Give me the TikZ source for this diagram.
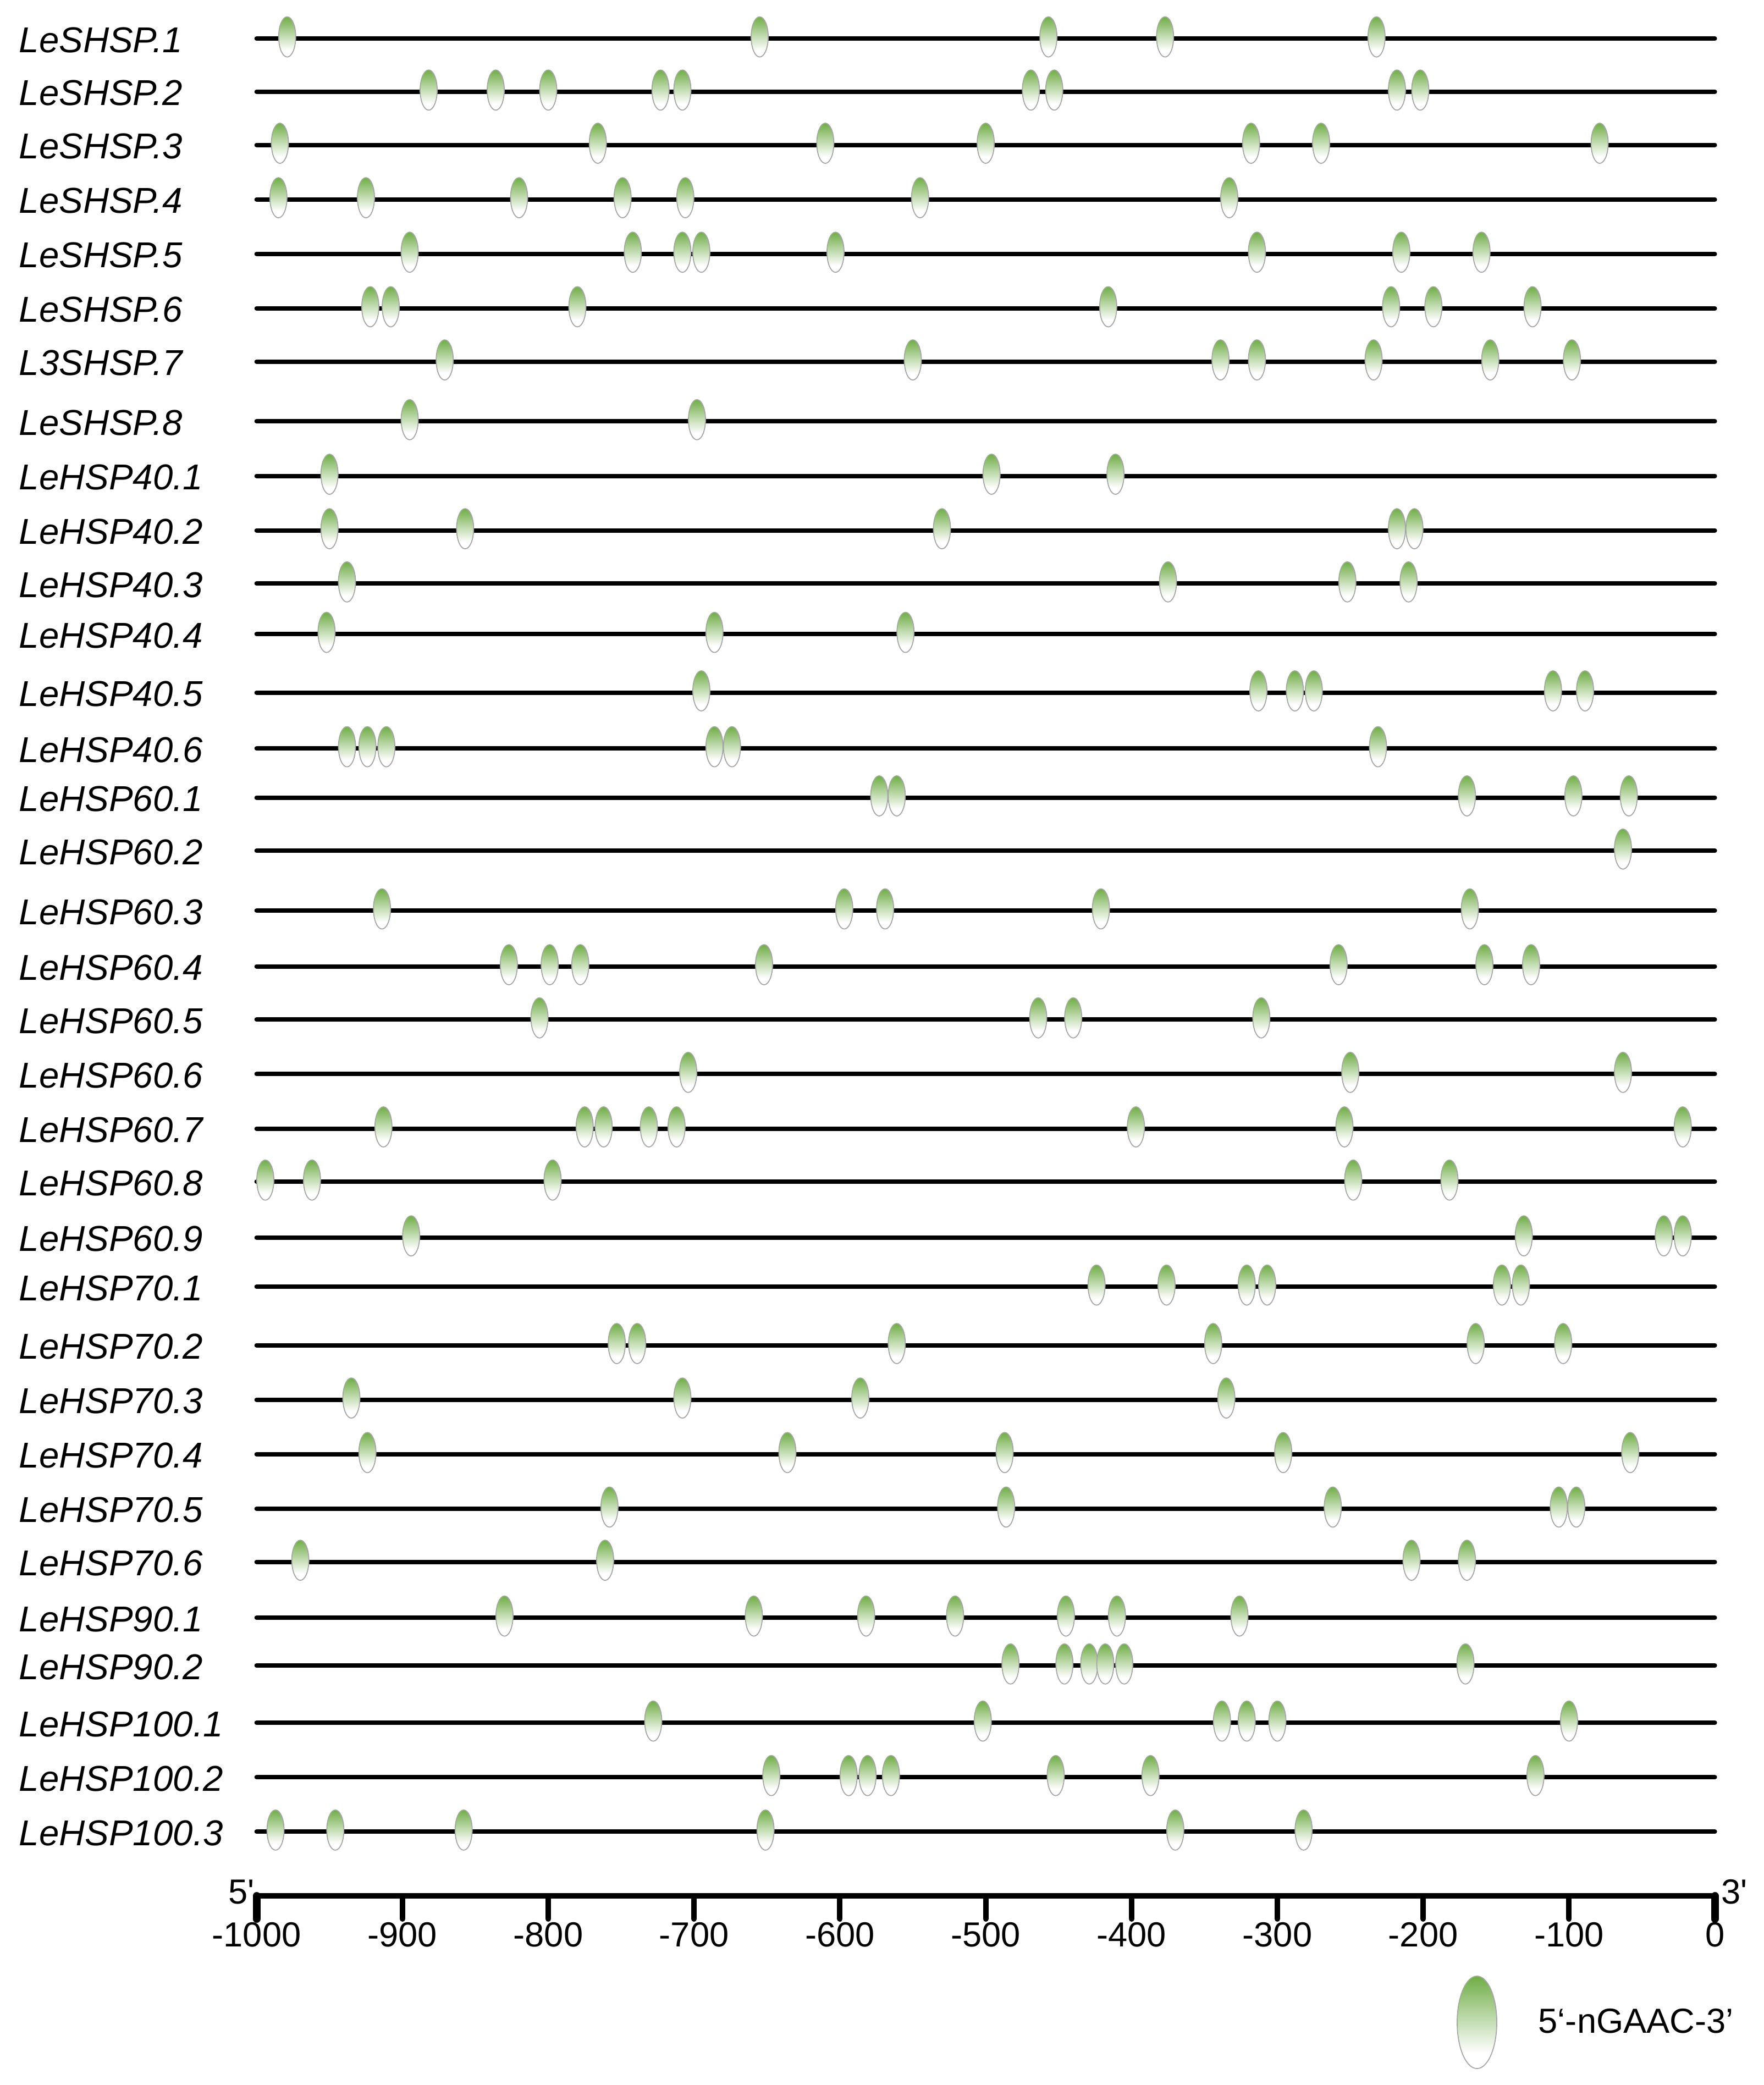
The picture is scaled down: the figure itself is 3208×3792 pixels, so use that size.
\documentclass[tikz,border=0pt]{standalone}
\usepackage{fontspec}
\newfontfamily\arialf{Liberation Sans}
\usetikzlibrary{shapes.geometric}
\definecolor{mgreen}{RGB}{112,173,71}
\colorlet{mlight}{mgreen!45!white}
\definecolor{mgray}{RGB}{165,165,165}
\pgfdeclareverticalshading{motifshade}{100bp}{color(0bp)=(white); color(33bp)=(white); color(52bp)=(mlight); color(75bp)=(mgreen); color(100bp)=(mgreen)}
\tikzset{
  rowline/.style={line width=0.08cm, line cap=round},
  axisline/.style={line width=0.1cm},
  tickline/.style={line width=0.1cm, line cap=round},
  motif/.style={ellipse, draw=mgray, line width=0.5pt, shade, shading=motifshade, inner sep=0pt, minimum width=0.31cm, minimum height=0.73cm},
  lab/.style={font=\arialf\itshape\fontsize{18.6}{20}\selectfont, inner sep=0pt},
  ticklab/.style={font=\arialf\fontsize{18}{20}\selectfont, inner sep=0pt},
}
\newcommand\generow[4]{%
  \node[lab, anchor=base west] (lab-#1) at (34,#2+25) {#3};
  \coordinate (s-#1) at (466.6,#2);
  \coordinate (t-#1) at (3118.6,#2);
  \draw[rowline] (s-#1) -- (t-#1);
  \foreach \v [count=\j] in {#4} {
    \pgfmathsetmacro\X{3118.6+2.652*\v}
    \node[motif] (m-#1-\j) at (\X,#2-3) {};
  }%
}
\begin{document}
\begin{tikzpicture}[x=0.01cm, y=-0.01cm]
\path[fill=white] (0,0) rectangle (3208,3792);
\useasboundingbox (0,0) rectangle (3208,3792);
\generow{1}{70.1}{LeSHSP.1}{-979,-655,-457,-377,-232}
\generow{2}{166.8}{LeSHSP.2}{-882,-836,-800,-723,-708,-469,-453,-218,-202}
\generow{3}{263.5}{LeSHSP.3}{-984,-766,-610,-500,-318,-270,-79}
\generow{4}{362.6}{LeSHSP.4}{-985,-925,-820,-749,-706,-545,-333}
\generow{5}{461.7}{LeSHSP.5}{-895,-742,-708,-695,-603,-314,-215,-160}
\generow{6}{560.9}{LeSHSP.6}{-922,-908,-780,-416,-222,-193,-125}
\generow{7}{657.6}{L3SHSP.7}{-871,-550,-339,-314,-234,-154,-98}
\generow{8}{766.3}{LeSHSP.8}{-895,-698}
\generow{9}{865.5}{LeHSP40.1}{-950,-496,-411}
\generow{10}{964.6}{LeHSP40.2}{-950,-857,-530,-218,-206}
\generow{11}{1061.3}{LeHSP40.3}{-938,-375,-252,-210}
\generow{12}{1153.1}{LeHSP40.4}{-952,-686,-555}
\generow{13}{1259.5}{LeHSP40.5}{-695,-313,-288,-275,-111,-89}
\generow{14}{1361.1}{LeHSP40.6}{-938,-924,-911,-686,-674,-231}
\generow{15}{1450.5}{LeHSP60.1}{-573,-561,-170,-97,-59}
\generow{16}{1547.2}{LeHSP60.2}{-63}
\generow{17}{1656.0}{LeHSP60.3}{-914,-597,-569,-421,-168}
\generow{18}{1757.5}{LeHSP60.4}{-827,-799,-778,-652,-258,-158,-126}
\generow{19}{1854.2}{LeHSP60.5}{-806,-464,-440,-311}
\generow{20}{1953.3}{LeHSP60.6}{-704,-250,-63}
\generow{21}{2052.5}{LeHSP60.7}{-913,-775,-762,-731,-712,-397,-254,-22}
\generow{22}{2149.2}{LeHSP60.8}{-994,-962,-797,-248,-182}
\generow{23}{2250.7}{LeHSP60.9}{-894,-131,-35,-22}
\generow{24}{2340.1}{LeHSP70.1}{-424,-376,-321,-307,-146,-133}
\generow{25}{2446.5}{LeHSP70.2}{-753,-739,-561,-344,-164,-104}
\generow{26}{2545.6}{LeHSP70.3}{-935,-708,-586,-335}
\generow{27}{2644.8}{LeHSP70.4}{-924,-636,-487,-296,-58}
\generow{28}{2743.9}{LeHSP70.5}{-758,-486,-262,-107,-95}
\generow{29}{2840.6}{LeHSP70.6}{-970,-761,-208,-170}
\generow{30}{2942.1}{LeHSP90.1}{-830,-659,-582,-521,-445,-410,-326}
\generow{31}{3029.2}{LeHSP90.2}{-483,-446,-429,-418,-405,-171}
\generow{32}{3133.1}{LeHSP100.1}{-728,-502,-338,-321,-300,-100}
\generow{33}{3232.2}{LeHSP100.2}{-647,-594,-581,-565,-452,-387,-123}
\generow{34}{3331.3}{LeHSP100.3}{-987,-946,-858,-651,-370,-282}
% axis
\coordinate (ax0) at (466.6,3448);
\coordinate (ax1) at (3118.6,3448);
\draw[axisline] (ax0) -- (ax1);
\foreach \t in {-1000,-900,...,0}{
  \pgfmathsetmacro\X{3118.6+2.652*\t}
  \coordinate (tk\t) at (\X,3448);
  \coordinate (tb\t) at (\X,3490);
  \draw[tickline] (tk\t) -- (tb\t);
  \node[ticklab, anchor=base] (tl\t) at (\X,3540) {\t};
}
\draw[line width=0.14cm, line cap=round] (tk-1000) -- (tb-1000);
\draw[line width=0.14cm, line cap=round] (tk0) -- (tb0);
\node[ticklab, anchor=base east] (five) at (463,3462) {5'};
\node[ticklab, anchor=base west] (three) at (3130,3462) {3'};
% legend
\node[motif, minimum width=0.72cm, minimum height=1.68cm] (legm) at (2686,3678) {};
\node[ticklab, anchor=base west] (legt) at (2797,3697) {5‘-nGAAC-3’};
\end{tikzpicture}
\end{document}
